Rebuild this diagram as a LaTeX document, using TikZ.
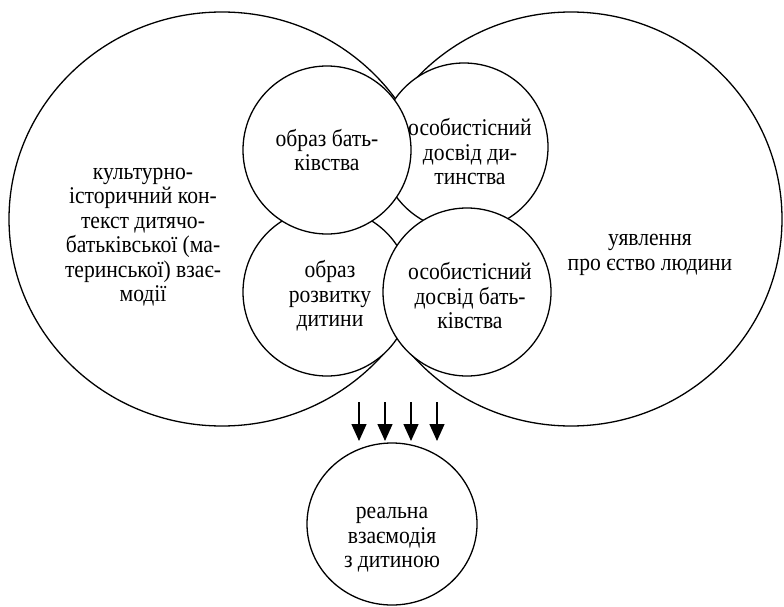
\documentclass[tikz,border=0pt]{standalone}
\usepackage{fontspec}
\setmainfont{Liberation Serif}
\newfontfamily\narrowserif{Liberation Serif}[FakeStretch=0.9]
\usetikzlibrary{arrows.meta,shapes.geometric}
\tikzset{
  big/.style={draw, line width=1.3pt, shape=ellipse, inner sep=0pt},
  small/.style={draw, fill=white, line width=1.3pt, circle, inner sep=0pt, minimum size=168pt},
  txt/.style={align=center, font=\narrowserif\fontsize{24}{24.5}\selectfont, inner sep=0pt},
  flow/.style={line width=1.4pt, -{Triangle[width=15pt,length=17pt]}}
}
\begin{document}
\begin{tikzpicture}[x=1pt,y=-1pt]
\useasboundingbox (0,0) rectangle (784,607);
% big ellipses
\node[big, minimum width=426pt, minimum height=414pt] (ctx) at (222,219) {};
\node[big, minimum width=422pt, minimum height=414pt] (man) at (571,219) {};
% small circles (back ones first)
\node[small] (exp1) at (464,147) {};
\node[small] (img2) at (327,292) {};
\node[small] (img1) at (327,150) {};
\node[small] (exp2) at (467,292) {};
% texts
\node[txt] (tctx) at (143,237) {культурно-\\історичний кон-\\текст дитячо-\\батьківської (ма-\\теринської) взає-\\модії};
\node[txt] (tman) at (650,255) {уявлення\\про єство людини};
\node[txt] (timg1) at (327,150) {образ бать-\\ківства};
\node[txt] (texp1) at (470,152) {особистісний\\досвід ди-\\тинства};
\node[txt] (timg2) at (330,296) {образ\\розвитку\\дитини};
\node[txt] (texp2) at (470,296) {особистісний\\досвід бать-\\ківства};
% bottom circle
\node[big, minimum width=170pt, minimum height=162pt] (real) at (392,524) {};
\node[txt] (treal) at (392,540) {реальна\\взаємодія\\з дитиною};
% arrows
\foreach \i/\x in {1/359,2/385,3/411,4/437}{
  \coordinate (s\i) at (\x,402);
  \coordinate (e\i) at (\x,441);
  \draw[flow] (s\i) -- (e\i);
}
\end{tikzpicture}
\end{document}
